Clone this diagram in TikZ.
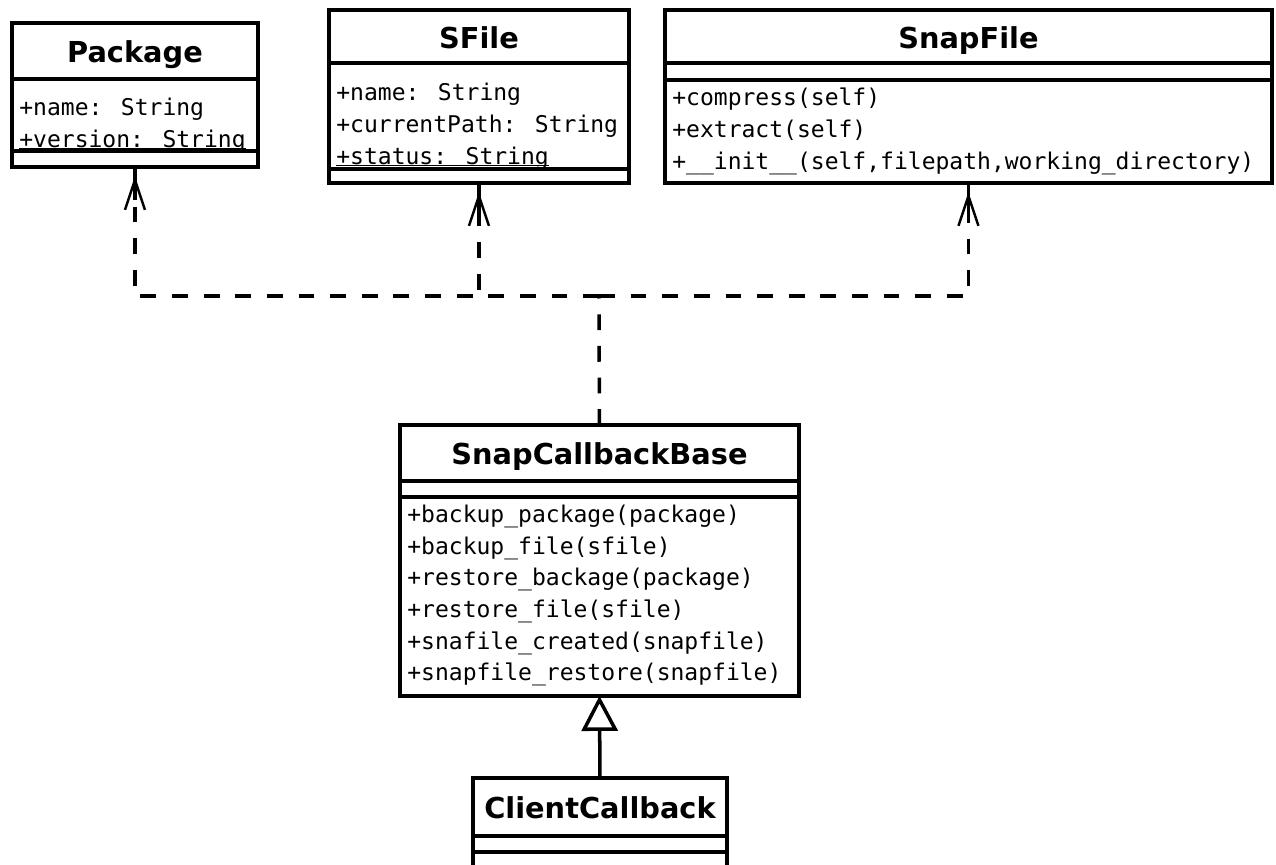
\documentclass[tikz,border=0pt]{standalone}
\usepackage{fontspec}
\usepackage{tikz}
\usetikzlibrary{arrows.meta, decorations.markings}

\newfontfamily\titlefont{DejaVu Sans}
\newfontfamily\membfont{DejaVu Sans Mono}

% class attribute (underlined)
\newcommand{\staticattr}[1]{\setbox0=\hbox{#1}\rlap{\rule[-1pt]{\wd0}{0.7pt}}\box0}

\tikzset{
  umlbox/.style={draw, line width=2pt, outer sep=0pt, inner sep=0pt, anchor=north west},
  classname/.style={umlbox, font=\titlefont\bfseries\fontsize{16.4pt}{18pt}\selectfont,
    text height=0.48cm, text depth=0cm},
  members/.style={inner sep=0pt, anchor=base west, font=\membfont\fontsize{13.1pt}{18pt}\selectfont},
  dashline/.style={line width=2pt, dash pattern=on 9pt off 9pt},
  % open arrow, a little below the box, with a solid stem
  depline/.style={dashline, shorten >=0.18cm,
    -{Straight Barb[length=0.6cm, width=0.4cm, line width=1.4pt]},
    postaction={decorate, decoration={markings,
      mark=at position 1 with {\draw[solid, -, line width=2pt] (0,0) -- (-0.84cm,0);}}}},
  genline/.style={line width=2pt, -{Triangle[open, length=0.7cm, width=0.72cm, fill=white]}},
}

\begin{document}
\begin{tikzpicture}[x=0.02cm, y=-0.02cm]
\useasboundingbox (0,0) rectangle (1276,865);

% Package
\node[classname, minimum width=4.92cm, minimum height=1.12cm] (pkgbox) at (12,23) {Package};
\node[umlbox, minimum width=4.92cm, minimum height=1.44cm] (pkgattr) at (pkgbox.south west) {};
\node[umlbox, minimum width=4.92cm, minimum height=0.32cm] (pkgops) at (pkgattr.south west) {};
\node[members] (pkgattrtext) at (19,116) {\begin{tabular}[t]{@{}l@{}}
        +name: String\\
        \staticattr{+version: String}
    \end{tabular}};

% SFile
\node[classname, minimum width=6cm, minimum height=1.06cm] (sfilebox) at (329,10) {SFile};
\node[umlbox, minimum width=6cm, minimum height=2.12cm] (sfileattr) at (sfilebox.south west) {};
\node[umlbox, minimum width=6cm, minimum height=0.28cm] (sfileops) at (sfileattr.south west) {};
\node[members] (sfileattrtext) at (336,101) {\begin{tabular}[t]{@{}l@{}}
        +name: String\\
        +currentPath: String\\
        \staticattr{+status: String}
    \end{tabular}};

% SnapFile
\node[classname, minimum width=12.14cm, minimum height=1.06cm] (snapbox) at (665,10) {SnapFile};
\node[umlbox, minimum width=12.14cm, minimum height=0.34cm] (snapattr) at (snapbox.south west) {};
\node[umlbox, minimum width=12.14cm, minimum height=2.06cm] (snapops) at (snapattr.south west) {};
\node[members] (snapopstext) at (672,106) {\begin{tabular}[t]{@{}l@{}}
        +compress(self)\\
        +extract(self)\\
        +\_\_init\_\_(self,filepath,working\_directory)
    \end{tabular}};

% SnapCallbackBase
\node[classname, minimum width=7.98cm, minimum height=1.12cm] (cbasebox) at (400,425) {SnapCallbackBase};
\node[umlbox, minimum width=7.98cm, minimum height=0.32cm] (cbaseattr) at (cbasebox.south west) {};
\node[umlbox, minimum width=7.98cm, minimum height=3.98cm] (cbaseops) at (cbaseattr.south west) {};
\node[members] (cbaseopstext) at (407,522.7) {\begin{tabular}[t]{@{}l@{}}
        +backup\_package(package)\\
        +backup\_file(sfile)\\
        +restore\_backage(package)\\
        +restore\_file(sfile)\\
        +snafile\_created(snapfile)\\
        +snapfile\_restore(snapfile)
    \end{tabular}};

% ClientCallback
\node[classname, minimum width=5.08cm, minimum height=1.16cm] (clientbox) at (473,778) {ClientCallback};
\node[umlbox, minimum width=5.08cm, minimum height=0.32cm] (clientattr) at (clientbox.south west) {};
\node[umlbox, minimum width=5.08cm, minimum height=0.96cm] (clientops) at (clientattr.south west) {};

% Dependencies
\coordinate (join) at (599,296);
\draw[dashline] (cbasebox.north) -- (join);
\draw[depline] (join) -| (pkgops.south);
\draw[depline] (join) -| (sfileops.south);
\draw[depline] (join) -| (snapops.south);

% Generalization
\draw[genline] (clientbox.north) -- (cbaseops.south);
\end{tikzpicture}
\end{document}
